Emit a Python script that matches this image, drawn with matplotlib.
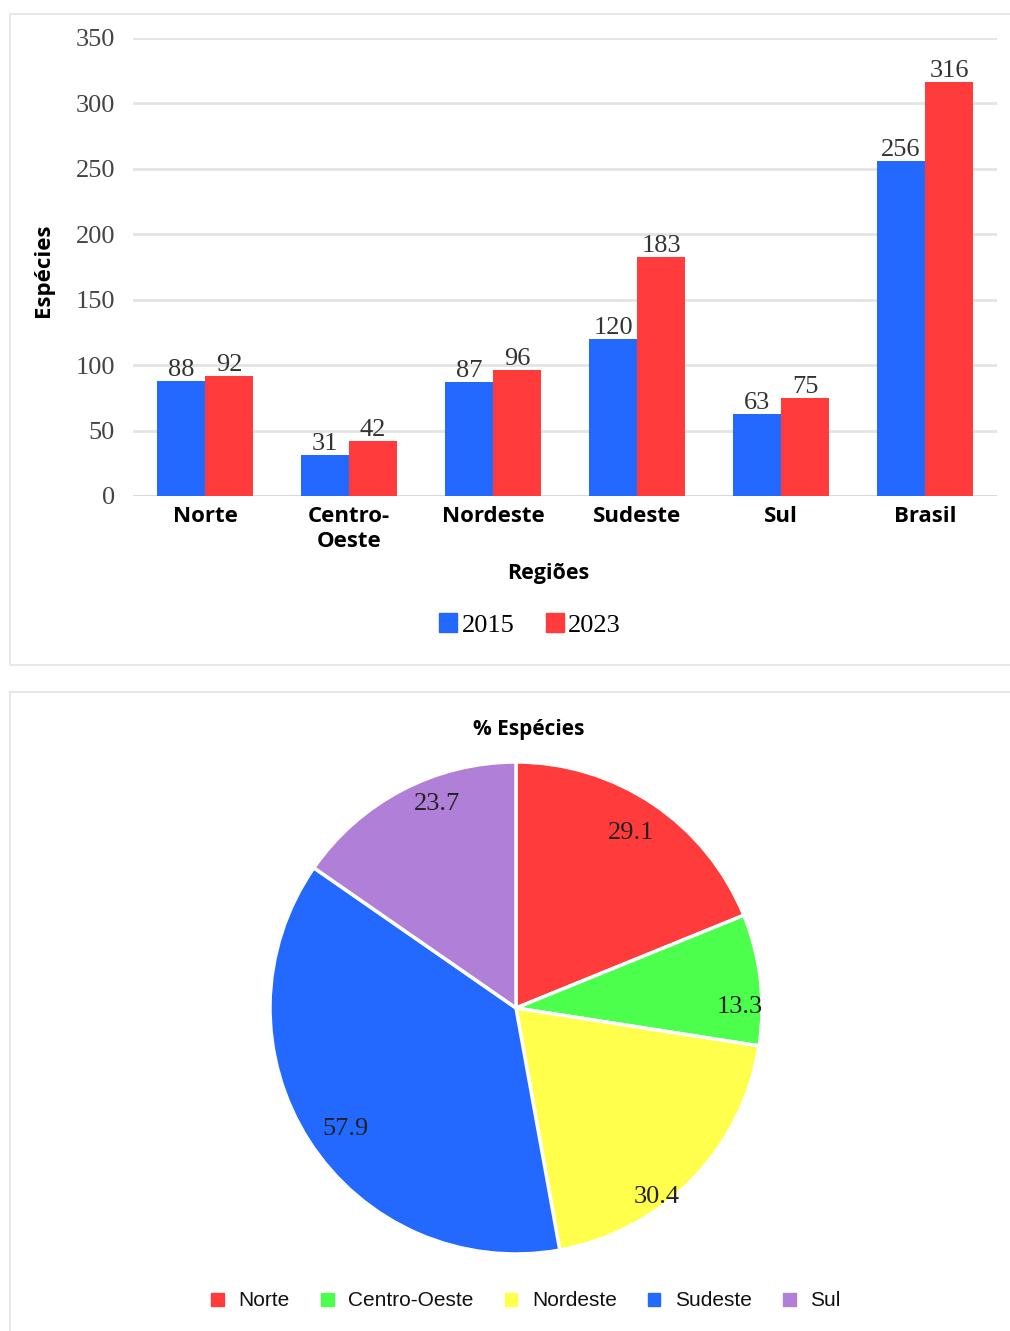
import matplotlib
matplotlib.use("Agg")
import matplotlib.pyplot as plt
from matplotlib.patches import Rectangle, Patch
import numpy as np

# ---- data ----
regions = ["Norte", "Centro-\nOeste", "Nordeste", "Sudeste", "Sul", "Brasil"]
years = ["2015", "2023"]
species_2015 = [88, 31, 87, 120, 63, 256]
species_2023 = [92, 42, 96, 183, 75, 316]
yticks = [0, 50, 100, 150, 200, 250, 300, 350]

pie_labels = ["Norte", "Centro-Oeste", "Nordeste", "Sudeste", "Sul"]
pie_values = [29.1, 13.3, 30.4, 57.9, 23.7]

# ---- styles ----
BLUE = "#2369FF"
RED = "#FF3B3B"
pie_colors = ["#FF3B3B", "#4CFF4C", "#FFFF4C", "#2369FF", "#B080D8"]
SERIF = ["Liberation Serif", "DejaVu Serif"]
SANS_B = ["Open Sans", "DejaVu Sans"]
NARROW = ["Liberation Sans Narrow", "Liberation Sans", "DejaVu Sans"]
GRID = "#e4e4e4"
# label placement style for pie values (radial fraction, angle shift in degrees)
label_radius = [0.85, 0.91, 0.96, 0.85, 0.89]
label_shift = [0.5, -6.5, -9.0, 2.5, -6.5]

W, H = 1010, 1331
fig = plt.figure(figsize=(W / 100, H / 100), dpi=100)

# panel frames
fig.patches.append(Rectangle((10 / W, 1 - 665 / H), 1.0, (665 - 14) / H,
                             transform=fig.transFigure, fill=False,
                             edgecolor="#e8e8e8", lw=1.5))
fig.patches.append(Rectangle((10 / W, 1 - 1340 / H), 1.0, (1340 - 692) / H,
                             transform=fig.transFigure, fill=False,
                             edgecolor="#e8e8e8", lw=1.5))

# ---- bar chart ----
ax = fig.add_axes([133 / W, 1 - 496 / H, (997 - 133) / W, (496 - 38) / H])
x = np.arange(len(regions))
bw = 1 / 3
b1 = ax.bar(x - bw / 2, species_2015, bw, color=BLUE, zorder=3)
b2 = ax.bar(x + bw / 2, species_2023, bw, color=RED, zorder=3)
for bars in (b1, b2):
    ax.bar_label(bars, padding=0, fontsize=19, family=SERIF, color="#333333")
ax.set_xlim(-0.5, len(regions) - 0.5)
ax.set_ylim(0, 350)
ax.set_yticks(yticks)
ax.set_yticklabels([str(t) for t in yticks], family=SERIF, fontsize=19, color="#444444")
ax.set_xticks(x)
ax.set_xticklabels(regions, family=SANS_B, fontweight="bold", fontsize=16,
                   linespacing=1.25)
ax.tick_params(axis="both", length=0)
ax.tick_params(axis="y", pad=13)
ax.tick_params(axis="x", pad=7)
ax.grid(axis="y", color=GRID, lw=2, zorder=0)
for s in ax.spines.values():
    s.set_visible(False)
ax.axhline(0, color="#d8d8d8", lw=2, zorder=2)

fig.text(43 / W, 1 - 270 / H, "Espécies", rotation=90, ha="center", va="center",
         family=SANS_B, fontweight="bold", fontsize=16)
fig.text(548 / W, 1 - 573 / H, "Regiões", ha="center", va="center",
         family=SANS_B, fontweight="bold", fontsize=15.5)

handles = [Patch(color=BLUE), Patch(color=RED)]
fig.legend(handles, years, loc="center", bbox_to_anchor=(530 / W, 1 - 625 / H),
           ncol=2, frameon=False, handlelength=0.7, handleheight=0.7,
           handletextpad=0.15, columnspacing=1.2,
           prop={"family": SERIF, "size": 19})

# ---- pie chart ----
r = 246
pax = fig.add_axes([(516 - r) / W, 1 - (1008 + r) / H, 2 * r / W, 2 * r / H])
wedges, texts = pax.pie(
    pie_values, colors=pie_colors, startangle=90, counterclock=False,
    wedgeprops={"edgecolor": "white", "linewidth": 2.5})
for w, v, rf, sh in zip(wedges, pie_values, label_radius, label_shift):
    ang = np.deg2rad((w.theta1 + w.theta2) / 2 + sh)
    pax.text(rf * np.cos(ang), rf * np.sin(ang), f"{v:.1f}", ha="center",
             va="center", family=SERIF, fontsize=19, color="#222222")
pax.set_xlim(-1, 1)
pax.set_ylim(-1, 1)
pax.set_aspect("equal")

fig.text(529 / W, 1 - 729 / H, "% Espécies", ha="center", va="center",
         family=SANS_B, fontweight="bold", fontsize=15)

fig.legend([Patch(color=c) for c in pie_colors], pie_labels, loc="center",
           bbox_to_anchor=(526 / W, 1 - 1301 / H), ncol=5, frameon=False,
           handlelength=0.6, handleheight=0.6, handletextpad=0.7,
           columnspacing=1.5, labelcolor="#111111",
           prop={"family": NARROW, "size": 15})

fig.savefig("out.png", dpi=100)
